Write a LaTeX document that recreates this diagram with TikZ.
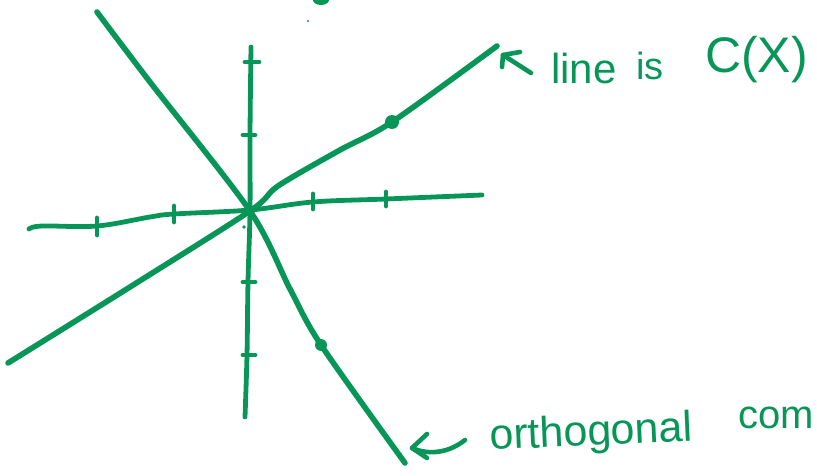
\documentclass[tikz,border=0pt]{standalone}
\usepackage{fontspec}
\setmainfont{Liberation Sans}
\definecolor{ink}{RGB}{8,150,88}
\begin{document}
\begin{tikzpicture}[x=1pt,y=-1pt,line cap=round,line join=round,
  axisline/.style={ink,line width=4.8pt},
  mainline/.style={ink,line width=5.6pt},
  tickmark/.style={ink,line width=4.8pt},
  arrowstroke/.style={ink,line width=4.6pt},
  lbl/.style={ink,inner sep=0pt,anchor=base west}]
\useasboundingbox (0,0) rectangle (817,476);
% origin
\coordinate (O) at (250,211);
% horizontal axis
\draw[axisline] plot[smooth,tension=0.6] coordinates {(29,229) (42,226) (97,226) (150,217) (174,214) (250,210) (313,202) (386,199) (482,195)};
% vertical axis
\draw[axisline] plot[smooth,tension=0.6] coordinates {(251,47) (250,135) (250,211) (248,282) (247,355) (245,417)};
% ticks on horizontal axis
\draw[tickmark] (97,218) -- (97,235);
\draw[tickmark] (174,206) -- (174,222);
\draw[tickmark] (313,194) -- (313,209);
\draw[tickmark] (386,192) -- (386,206);
% ticks on vertical axis
\draw[tickmark] (245,62) -- (259,62);
\draw[tickmark] (243,135) -- (255,135);
\draw[tickmark] (243,282) -- (255,282);
\draw[tickmark] (243,355) -- (255,355);
% line C(X)
\coordinate (cxA) at (8,363);
\coordinate (cxB) at (497,46);
\draw[mainline] plot[smooth,tension=0.5] coordinates {(cxA) (130,287) (O) (278,186) (340,150) (392,122) (cxB)};
% orthogonal complement
\coordinate (ocA) at (97,12);
\coordinate (ocB) at (405,463);
\draw[mainline] plot[smooth,tension=0.5] coordinates {(ocA) (150,82) (O) (290,289) (321,345) (ocB)};
% dots
\fill[ink] (392,122) circle (7);
\fill[ink] (321,345) circle (6);
\fill[ink] (O) circle (5);
\fill[ink] (244,227) circle (1.8);
% top arrow
\coordinate (t1tip) at (503,55);
\coordinate (t1tail) at (531,73);
\draw[arrowstroke] (t1tail) -- (t1tip);
\draw[arrowstroke] (520,52) -- (t1tip) -- (502,67);
% bottom arrow
\coordinate (t2tip) at (412,448);
\coordinate (t2tail) at (465,440);
\draw[arrowstroke] (427,434) -- (t2tip) -- (427,458);
\draw[arrowstroke] (t2tip) .. controls (430,456) and (450,452) .. (t2tail);
% labels
\node[lbl,font=\fontsize{42}{42}\selectfont] (lline) at (551,84) {line};
\node[lbl,font=\fontsize{38}{38}\selectfont] (lis) at (636,80) {is};
\node[lbl,font=\fontsize{50}{50}\selectfont] (lcx) at (705,73) {C(X)};
\node[lbl,font=\fontsize{43}{43}\selectfont,rotate=2.5] (lorth) at (490,450) {orthogonal};
\node[lbl,font=\fontsize{40}{40}\selectfont] (lcom) at (738,428) {com};
% stray marks at top
\fill[ink] (321,0) ellipse (8 and 5);
\fill[ink] (308,21) circle (1.2);
\end{tikzpicture}
\end{document}
